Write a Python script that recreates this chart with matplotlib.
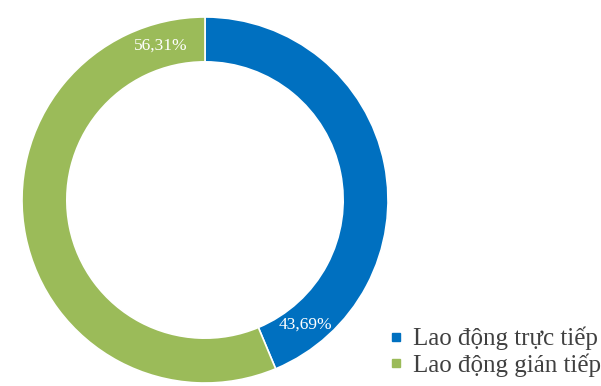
import matplotlib.pyplot as plt
from matplotlib.lines import Line2D
import numpy as np

labels = ["Lao động trực tiếp", "Lao động gián tiếp"]
values = [43.69, 56.31]
value_text = ["43,69%", "56,31%"]
colors = ["#0070C0", "#9BBB59"]

plt.rcParams['font.family'] = ['Liberation Serif', 'DejaVu Serif']

fig = plt.figure(figsize=(6.01, 3.86), dpi=100)
ax = fig.add_axes([22 / 601, 3 / 386, 366 / 601, 366 / 386])

wedges, _ = ax.pie(values, colors=colors, startangle=90, counterclock=False,
                   radius=1.0, wedgeprops=dict(width=0.245, edgecolor="white", linewidth=1.2))

# labels sit near the end of each slice, like the Excel original
for w, txt in zip(wedges, value_text):
    ang = np.deg2rad(w.theta1 + 16)
    r = 0.875
    ax.text(r * np.cos(ang), r * np.sin(ang), txt, color="white", fontsize=12.5,
            ha="center", va="center")

ax.set_xlim(-1, 1)
ax.set_ylim(-1, 1)
ax.set_aspect("equal")
ax.axis("off")

handles = [Line2D([], [], marker="s", linestyle="none", markersize=6,
                  markerfacecolor=c, markeredgecolor=c) for c in colors]
fig.legend(handles, labels, loc="lower right", bbox_to_anchor=(1.025, -0.015),
           frameon=False, fontsize=18, handletextpad=0.35, labelspacing=0.12,
           handlelength=0.7, labelcolor="#404040", borderaxespad=0.2)

fig.savefig("out.png", dpi=100)
